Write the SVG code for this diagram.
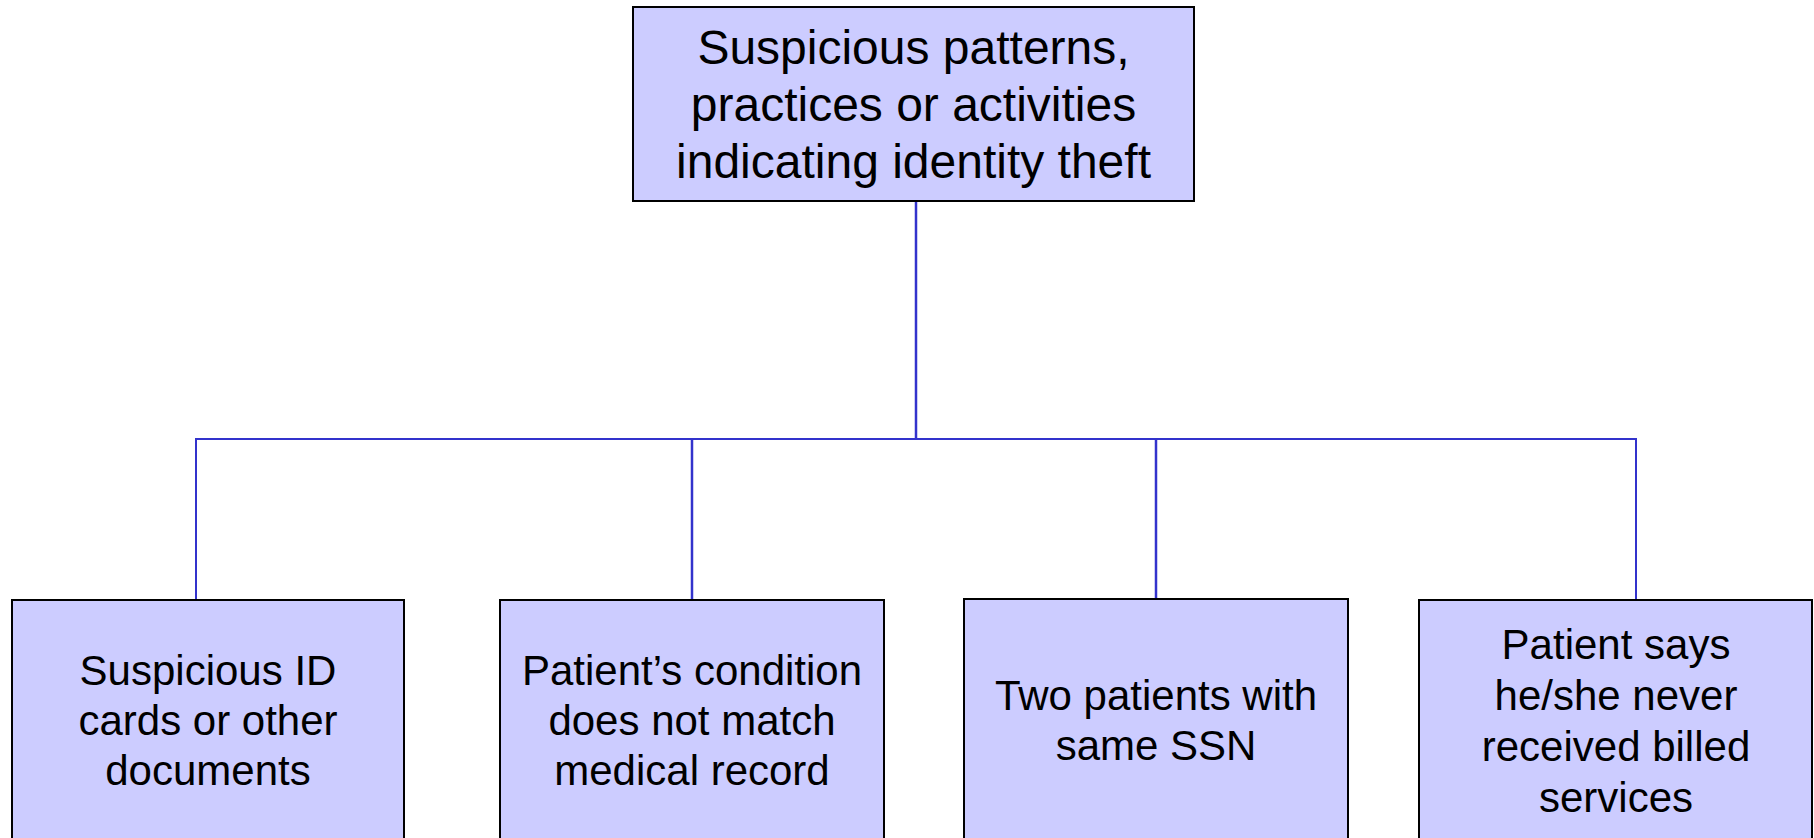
<svg xmlns="http://www.w3.org/2000/svg" width="1814" height="838" viewBox="0 0 1814 838">
<style>
.box{fill:#ccccff;stroke:#000;stroke-width:2}
.t{font-family:"Liberation Sans",Arial,sans-serif;fill:#000;text-anchor:middle}
.big{font-size:48px}
.sm{font-size:42px}
.c{stroke:#3333cc;fill:none}
</style>
<rect width="1814" height="838" fill="#fff"/>
<g id="connectors">
<line class="c" x1="916" y1="201" x2="916" y2="439" stroke-width="2.5"/>
<polyline class="c" points="196,600 196,439 1636,439 1636,600" stroke-width="2"/>
<line class="c" x1="692" y1="439" x2="692" y2="600" stroke-width="2.5"/>
<line class="c" x1="1156" y1="439" x2="1156" y2="599" stroke-width="2.5"/>
</g>
<g id="root">
<rect class="box" x="633" y="7" width="561" height="194"/>
<text class="t big" x="913.5"><tspan x="913.5" y="64">Suspicious patterns,</tspan><tspan x="913.5" y="121">practices or activities</tspan><tspan x="913.5" y="178">indicating identity theft</tspan></text>
</g>
<g id="n1">
<rect class="box" x="12" y="600" width="392" height="260"/>
<text class="t sm"><tspan x="208" y="685">Suspicious ID</tspan><tspan x="208" y="735">cards or other</tspan><tspan x="208" y="785">documents</tspan></text>
</g>
<g id="n2">
<rect class="box" x="500" y="600" width="384" height="260"/>
<text class="t sm"><tspan x="692" y="685">Patient’s condition</tspan><tspan x="692" y="735">does not match</tspan><tspan x="692" y="785">medical record</tspan></text>
</g>
<g id="n3">
<rect class="box" x="964" y="599" width="384" height="260"/>
<text class="t sm"><tspan x="1156" y="710">Two patients with</tspan><tspan x="1156" y="760">same SSN</tspan></text>
</g>
<g id="n4">
<rect class="box" x="1419" y="600" width="393" height="260"/>
<text class="t sm"><tspan x="1616" y="659">Patient says</tspan><tspan x="1616" y="710">he/she never</tspan><tspan x="1616" y="761">received billed</tspan><tspan x="1616" y="812">services</tspan></text>
</g>
</svg>
